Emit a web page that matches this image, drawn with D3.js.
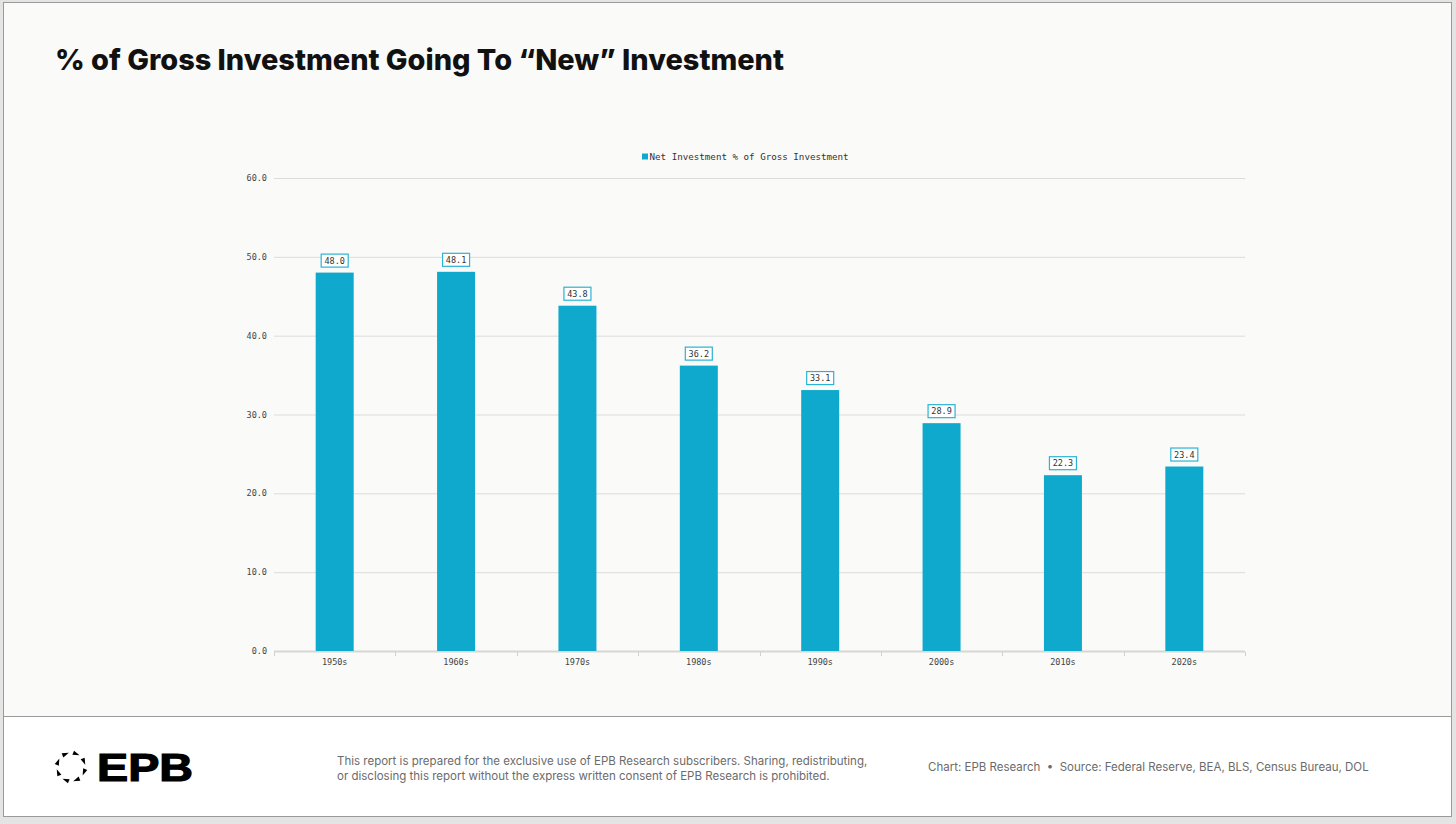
<!DOCTYPE html>
<html>
<head>
<meta charset="utf-8">
<script src="https://cdn.jsdelivr.net/npm/d3@7"></script>
<style>
  html, body { margin: 0; padding: 0; background: #e4e4e4; }
  svg { display: block; }
</style>
</head>
<body>
<div id="chart"></div>
<script>
const decades = ["1950s", "1960s", "1970s", "1980s", "1990s", "2000s", "2010s", "2020s"];
const netPct = [48.0, 48.1, 43.8, 36.2, 33.1, 28.9, 22.3, 23.4];
const yTicks = [0, 10, 20, 30, 40, 50, 60];
const seriesName = "Net Investment % of Gross Investment";
const title = "% of Gross Investment Going To \u201cNew\u201d Investment";
const disclaimer = [
  "This report is prepared for the exclusive use of EPB Research subscribers. Sharing, redistributing,",
  "or disclosing this report without the express written consent of EPB Research is prohibited."
];
const credit = "Chart: EPB Research  \u2022  Source: Federal Reserve, BEA, BLS, Census Bureau, DOL";

const width = 1456, height = 824;
const barColor = "#0ea9cd";
const mono = "'DejaVu Sans Mono', 'Liberation Mono', monospace";
const sans = "Inter, 'Noto Sans', 'Liberation Sans', sans-serif";

const svg = d3.select("#chart")
  .append("svg")
  .attr("width", width)
  .attr("height", height);

// page frame
svg.append("rect")
  .attr("x", 3.5).attr("y", 2.5)
  .attr("width", 1448).attr("height", 814)
  .attr("fill", "#fafaf8")
  .attr("stroke", "#9a9a9a");

svg.append("rect")
  .attr("x", 4).attr("y", 716.5)
  .attr("width", 1447).attr("height", 99.5)
  .attr("fill", "#ffffff");

svg.append("line")
  .attr("x1", 4).attr("x2", 1451)
  .attr("y1", 716.5).attr("y2", 716.5)
  .attr("stroke", "#9a9a9a");

svg.append("text")
  .attr("x", 55).attr("y", 70)
  .attr("font-family", sans)
  .attr("font-weight", 800)
  .attr("font-size", 29)
  .attr("textLength", 729)
  .attr("lengthAdjust", "spacingAndGlyphs")
  .attr("fill", "#111")
  .text(title);

// chart
const margin = { left: 274, right: 1245, top: 178, bottom: 651 };

const x = d3.scaleBand()
  .domain(decades)
  .range([margin.left, margin.right])
  .paddingInner(0.687)
  .paddingOuter(0.3435);

const y = d3.scaleLinear()
  .domain([0, 60])
  .range([margin.bottom, margin.top]);

const g = svg.append("g");

g.append("g")
  .selectAll("line")
  .data(yTicks)
  .enter()
  .append("line")
  .attr("x1", margin.left)
  .attr("x2", margin.right)
  .attr("y1", d => y(d) + 0.5)
  .attr("y2", d => y(d) + 0.5)
  .attr("stroke", d => d === 0 ? "#d6d6d6" : "#dcdcdc")
  .attr("stroke-width", d => d === 0 ? 2 : 1);

g.append("g")
  .selectAll("text")
  .data(yTicks)
  .enter()
  .append("text")
  .attr("x", 267)
  .attr("y", d => y(d) + 3)
  .attr("text-anchor", "end")
  .attr("font-family", mono)
  .attr("font-size", 8.5)
  .attr("fill", "#444")
  .text(d => d3.format(".1f")(d));

// x tick marks at band boundaries
const bounds = decades.map(d => x(d) - x.step() * x.paddingInner() / 2).concat([margin.right]);
g.append("g")
  .selectAll("line")
  .data(bounds)
  .enter()
  .append("line")
  .attr("x1", d => Math.round(d) + 0.5)
  .attr("x2", d => Math.round(d) + 0.5)
  .attr("y1", margin.bottom + 1)
  .attr("y2", margin.bottom + 5)
  .attr("stroke", "#d0d0d0");

g.append("g")
  .selectAll("text")
  .data(decades)
  .enter()
  .append("text")
  .attr("x", d => x(d) + x.bandwidth() / 2)
  .attr("y", 665)
  .attr("text-anchor", "middle")
  .attr("font-family", mono)
  .attr("font-size", 8.5)
  .attr("fill", "#444")
  .text(d => d);

const data = decades.map((d, i) => ({ decade: d, value: netPct[i] }));

g.append("g")
  .selectAll("rect")
  .data(data)
  .enter()
  .append("rect")
  .attr("x", d => x(d.decade))
  .attr("y", d => y(d.value))
  .attr("width", x.bandwidth())
  .attr("height", d => y(0) - y(d.value))
  .attr("fill", barColor);

const labels = g.append("g")
  .selectAll("g")
  .data(data)
  .enter()
  .append("g")
  .attr("transform", d => `translate(${x(d.decade) + x.bandwidth() / 2},${y(d.value) - 12})`);

labels.append("rect")
  .attr("x", -13.5)
  .attr("y", -6.5)
  .attr("width", 27)
  .attr("height", 13)
  .attr("fill", "#ffffff")
  .attr("stroke", "#2bb3d4")
  .attr("stroke-width", 1.2);

labels.append("text")
  .attr("y", 3)
  .attr("text-anchor", "middle")
  .attr("font-family", mono)
  .attr("font-size", 8.5)
  .attr("fill", "#333")
  .text(d => d3.format(".1f")(d.value));

// legend
const legend = svg.append("g").attr("transform", "translate(642,153)");
legend.append("rect")
  .attr("width", 6).attr("height", 6)
  .attr("y", 0.5)
  .attr("fill", barColor);
legend.append("text")
  .attr("x", 7.5).attr("y", 6.5)
  .attr("font-family", mono)
  .attr("font-size", 9.2)
  .attr("fill", "#333")
  .text(seriesName);

// footer logo: ring of triangles + EPB
const logo = svg.append("g").attr("transform", "translate(71,767)");
d3.range(8).forEach(i => {
  const a = (i / 8) * 2 * Math.PI + Math.PI / 8;
  const r = 14;
  const cx = r * Math.cos(a), cy = r * Math.sin(a);
  const rot = a * 180 / Math.PI + 90;
  logo.append("path")
    .attr("d", "M-3.4,-2.2L3.4,0L-3.4,2.2Z")
    .attr("transform", `translate(${cx},${cy}) rotate(${rot})`)
    .attr("fill", "#000");
});

svg.append("text")
  .attr("x", 97).attr("y", 781)
  .attr("font-family", "'Liberation Sans', Arial, sans-serif")
  .attr("font-weight", 900)
  .attr("font-size", 38)
  .attr("textLength", 96)
  .attr("lengthAdjust", "spacingAndGlyphs")
  .attr("stroke", "#000")
  .attr("stroke-width", 1.2)
  .attr("fill", "#000")
  .text("EPB");

svg.append("g")
  .selectAll("text")
  .data(disclaimer)
  .enter()
  .append("text")
  .attr("x", 337)
  .attr("y", (d, i) => 765 + i * 15)
  .attr("font-family", sans)
  .attr("font-size", 11.5)
  .attr("fill", "#6b6b6b")
  .text(d => d);

svg.append("text")
  .attr("x", 928).attr("y", 771)
  .attr("font-family", sans)
  .attr("font-size", 11.5)
  .attr("fill", "#6b6b6b")
  .attr("xml:space", "preserve")
  .style("white-space", "pre")
  .text(credit);
</script>
</body>
</html>
